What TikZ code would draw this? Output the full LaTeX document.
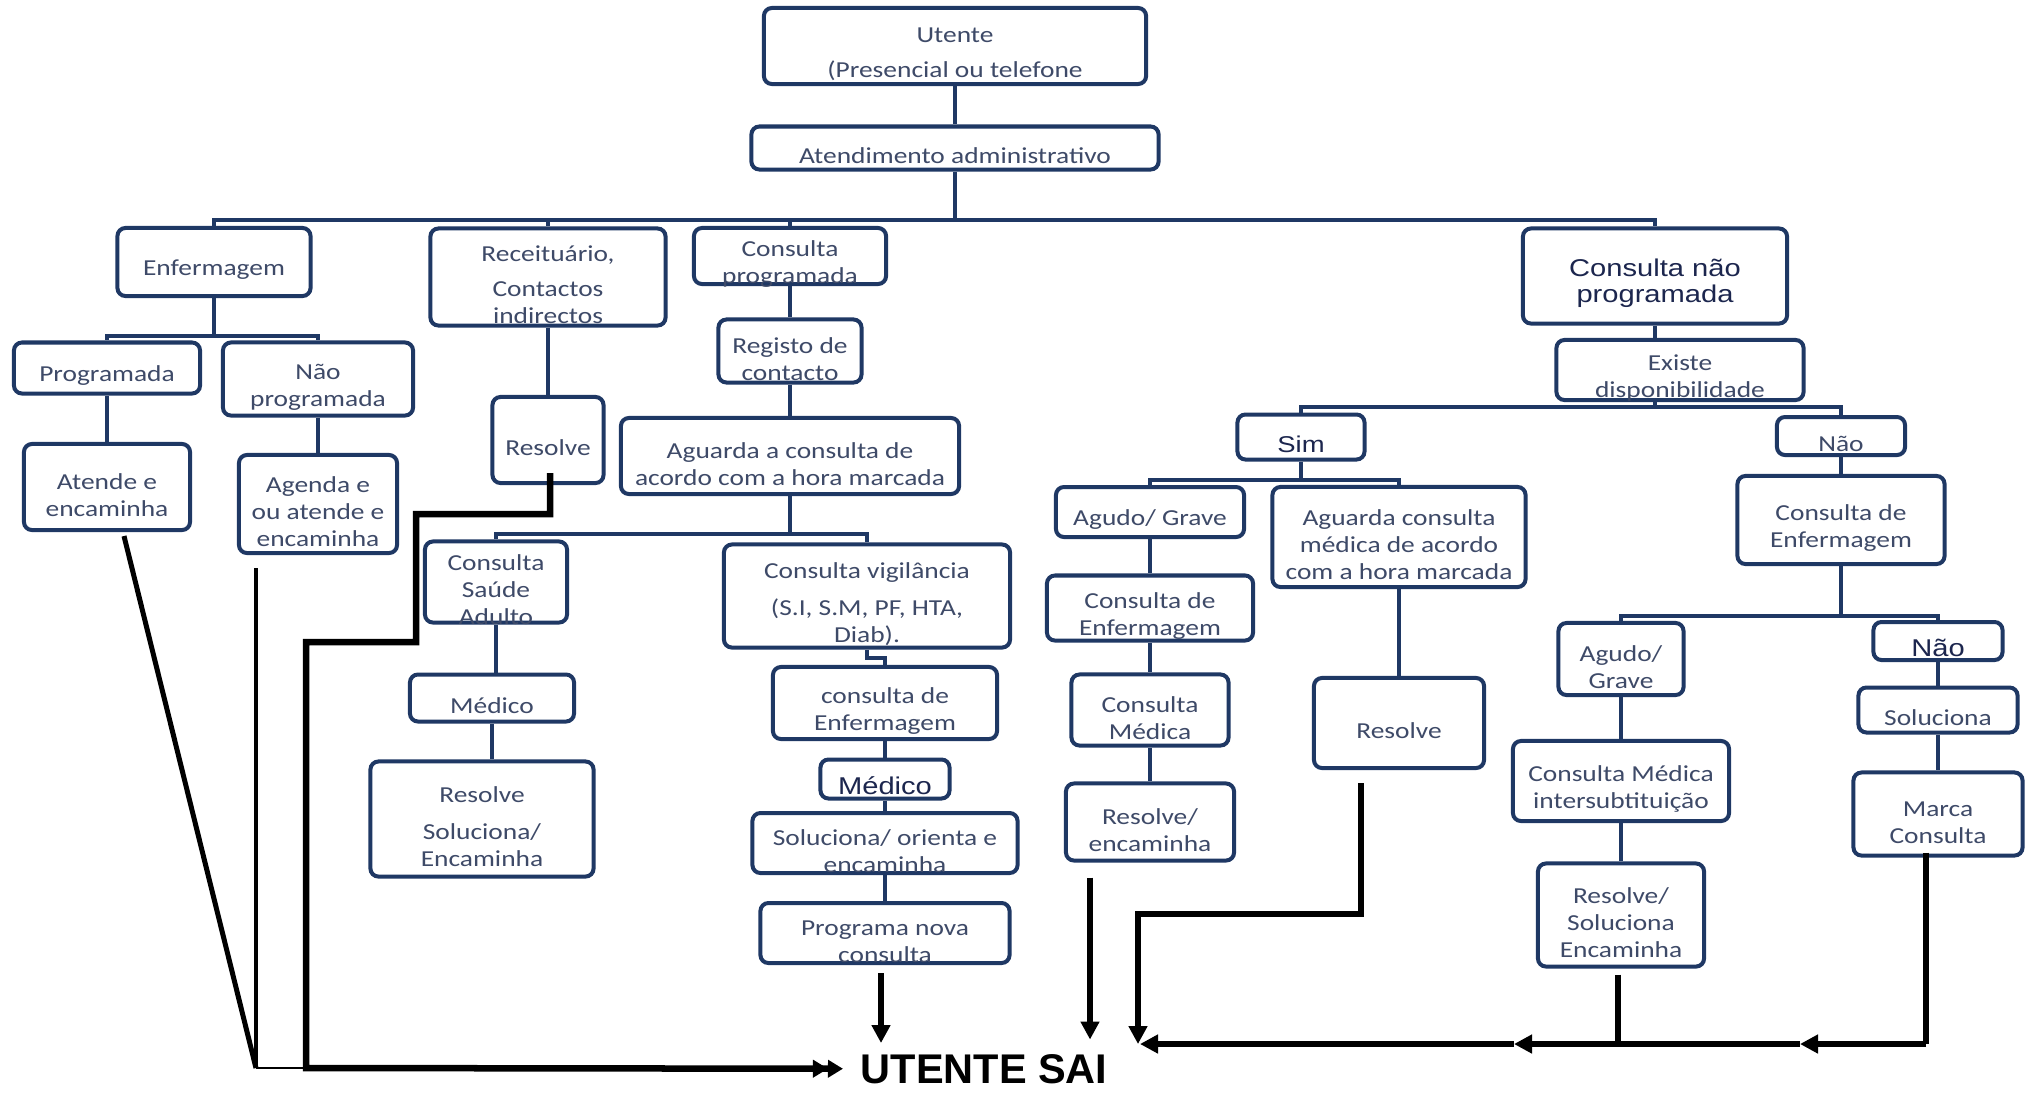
\documentclass[tikz,border=0pt]{standalone}
\usepackage{fontspec}
\setmainfont{Carlito}[FakeStretch=1.2]
\newfontfamily\arialfont{Liberation Sans}[FakeStretch=1.2]
\newfontfamily\saifont{Liberation Sans}
\usetikzlibrary{arrows.meta,calc}
\definecolor{boxblue}{RGB}{31,56,100}
\definecolor{txtblue}{RGB}{62,74,104}
\definecolor{darkblue}{RGB}{28,38,78}
\newcommand{\topo}{\rule{0pt}{9pt}}
\tikzset{
  caixa/.style={draw=boxblue, line width=0.04cm, rounded corners=0.08cm, fill=white,
    align=center, text=txtblue, inner xsep=0pt, inner ysep=-2pt, font=\fontsize{6.5pt}{7.7pt}\selectfont},
  caixaarial/.style={caixa, text=darkblue, font=\arialfont\fontsize{6.9pt}{7.3pt}\selectfont},
  liga/.style={draw=boxblue, line width=0.04cm},
  saida/.style={draw=black, line width=0.065cm},
  ponta/.style={-{Triangle[length=0.18cm,width=0.18cm]}},
}
\begin{document}
\begin{tikzpicture}[x=0.01cm, y=-0.01cm]
\useasboundingbox (0,0) rectangle (2033,1093);
% caixas
\node[caixa, minimum width=3.82cm, minimum height=0.76cm] (ute) at (955,46) {\topo Utente\\[0.08cm](Presencial ou telefone};
\node[caixa, minimum width=4.07cm, minimum height=0.43cm] (adm) at (955,148) {\topo Atendimento administrativo};
\node[caixa, minimum width=1.93cm, minimum height=0.68cm] (enf) at (214,262) {\topo Enfermagem};
\node[caixa, minimum width=2.35cm, minimum height=0.97cm] (rec) at (548,277) {\topo Receituário,\\[0.08cm]Contactos\\indirectos};
\node[caixa, minimum width=1.92cm, minimum height=0.56cm] (cpr) at (790,256) {\topo Consulta\\programada};
\node[caixaarial, minimum width=2.64cm, minimum height=0.95cm] (cnp) at (1655,276) {\topo Consulta não\\programada};
\node[caixa, minimum width=1.86cm, minimum height=0.51cm] (prg) at (107,368) {\topo Programada};
\node[caixa, minimum width=1.9cm, minimum height=0.73cm] (npr) at (318,379) {\topo Não\\programada};
\node[caixa, minimum width=1.66cm, minimum height=0.86cm] (ate) at (107,487) {\topo Atende e\\encaminha};
\node[caixa, minimum width=1.58cm, minimum height=0.98cm] (age) at (318,504) {\topo Agenda e\\ou atende e\\encaminha};
\node[caixa, minimum width=1.11cm, minimum height=0.86cm] (res1) at (548,440) {\topo Resolve};
\node[caixa, minimum width=1.43cm, minimum height=0.63cm] (reg) at (790,351) {\topo Registo de\\contacto};
\node[caixa, minimum width=3.38cm, minimum height=0.76cm] (agu) at (790,456) {\topo Aguarda a consulta de\\acordo com a hora marcada};
\node[caixa, minimum width=1.42cm, minimum height=0.81cm] (csa) at (496,582) {\topo Consulta\\Saúde\\Adulto};
\node[caixa, minimum width=2.86cm, minimum height=1.03cm] (cvi) at (867,596) {\topo Consulta vigilância\\[0.1cm](S.I, S.M, PF, HTA,\\Diab).};
\node[caixa, minimum width=1.64cm, minimum height=0.47cm] (med1) at (492,698) {\topo Médico};
\node[caixa, minimum width=2.23cm, minimum height=1.15cm] (res2) at (482,819) {\topo Resolve\\[0.1cm]Soluciona/\\Encaminha};
\node[caixa, minimum width=2.24cm, minimum height=0.72cm] (cen1) at (885,703) {\topo consulta de\\Enfermagem};
\node[caixaarial, minimum width=1.29cm, minimum height=0.39cm] (med2) at (885,779) {\topo Médico};
\node[caixa, minimum width=2.65cm, minimum height=0.6cm] (sol1) at (885,843) {\topo Soluciona/ orienta e\\encaminha};
\node[caixa, minimum width=2.49cm, minimum height=0.6cm] (pnc) at (885,933) {\topo Programa nova\\consulta};
\node[caixa, minimum width=2.47cm, minimum height=0.6cm] (exi) at (1680,370) {\topo Existe\\disponibilidade};
\node[caixaarial, minimum width=1.27cm, minimum height=0.45cm, font=\arialfont\fontsize{6.5pt}{7.5pt}\selectfont] (sim) at (1301,437) {\topo Sim};
\node[caixa, minimum width=1.28cm, minimum height=0.38cm] (nao1) at (1841,436) {\topo Não};
\node[caixa, minimum width=1.88cm, minimum height=0.5cm] (agr1) at (1150,512) {\topo Agudo/ Grave};
\node[caixa, minimum width=2.53cm, minimum height=1.0cm] (amc) at (1399,537) {\topo Aguarda consulta\\médica de acordo\\com a hora marcada};
\node[caixa, minimum width=2.06cm, minimum height=0.65cm] (cen2) at (1150,608) {\topo Consulta de\\Enfermagem};
\node[caixa, minimum width=1.57cm, minimum height=0.71cm] (cme) at (1150,710) {\topo Consulta\\Médica};
\node[caixa, minimum width=1.68cm, minimum height=0.77cm] (ren) at (1150,822) {\topo Resolve/\\encaminha};
\node[caixa, minimum width=1.7cm, minimum height=0.9cm] (res3) at (1399,723) {\topo Resolve};
\node[caixa, minimum width=2.07cm, minimum height=0.88cm] (cen3) at (1841,520) {\topo Consulta de\\Enfermagem};
\node[caixa, minimum width=1.25cm, minimum height=0.72cm] (agr2) at (1621,659) {\topo Agudo/\\Grave};
\node[caixaarial, minimum width=1.29cm, minimum height=0.38cm] (nao2) at (1938,641) {\topo Não};
\node[caixa, minimum width=2.16cm, minimum height=0.8cm] (cmi) at (1621,781) {\topo Consulta Médica\\intersubtituição};
\node[caixa, minimum width=1.66cm, minimum height=1.03cm] (rse) at (1621,915) {\topo Resolve/\\Soluciona\\Encaminha};
\node[caixa, minimum width=1.59cm, minimum height=0.45cm] (slc) at (1938,710) {\topo Soluciona};
\node[caixa, minimum width=1.69cm, minimum height=0.83cm] (mar) at (1938,814) {\topo Marca\\Consulta};
\node[anchor=base west, inner sep=0pt, font=\saifont\bfseries\fontsize{11.8pt}{14pt}\selectfont] (sai) at (860,1083) {UTENTE SAI};
% ligações
\coordinate (b1) at (955,220);
\coordinate (b2) at (214,336);
\coordinate (b3) at (790,534);
\coordinate (b4) at (1655,407);
\coordinate (b5) at (1301,480);
\coordinate (b6) at (1841,616);
\draw[liga] (ute) -- (adm);
\draw[liga] (adm) -- (b1);
\foreach \n in {enf,rec,cpr,cnp} \draw[liga] (b1) -| (\n.north);
\draw[liga] (enf) -- (b2);
\foreach \n in {prg,npr} \draw[liga] (b2) -| (\n.north);
\draw[liga] (prg) -- (ate);
\draw[liga] (npr) -- (age);
\draw[liga] (rec) -- (res1);
\draw[liga] (cpr) -- (reg);
\draw[liga] (reg) -- (agu);
\draw[liga] (agu) -- (b3);
\foreach \n in {csa,cvi} \draw[liga] (b3) -| (\n.north);
\draw[liga] (csa.south) -- (csa.south |- med1.north);
\draw[liga] (med1.south) -- (med1.south |- res2.north);
\draw[liga] (cvi.south) -- ++(0,8) -| (cen1.north);
\draw[liga] (cen1) -- (med2);
\draw[liga] (med2) -- (sol1);
\draw[liga] (sol1) -- (pnc);
\draw[liga] (cnp.south) -- (cnp.south |- exi.north);
\draw[liga] (cnp.south |- exi.south) -- (b4);
\foreach \n in {sim,nao1} \draw[liga] (b4) -| (\n.north);
\draw[liga] (sim) -- (b5);
\foreach \n in {agr1,amc} \draw[liga] (b5) -| (\n.north);
\draw[liga] (agr1) -- (cen2);
\draw[liga] (cen2) -- (cme);
\draw[liga] (cme) -- (ren);
\draw[liga] (amc) -- (res3);
\draw[liga] (nao1) -- (cen3);
\draw[liga] (cen3) -- (b6);
\foreach \n in {agr2,nao2} \draw[liga] (b6) -| (\n.north);
\draw[liga] (agr2) -- (cmi);
\draw[liga] (cmi) -- (rse);
\draw[liga] (nao2) -- (slc);
\draw[liga] (slc) -- (mar);
% saídas
\coordinate (jl) at (256,1068);
\coordinate (jr) at (306,1068);
\coordinate (c1) at (1926,1044);
\coordinate (c2) at (1800,1044);
\coordinate (c3) at (1514,1044);
\coordinate (c4) at (1140,1044);
\draw[saida, line width=0.05cm] ($(ate.south)+(17,4)$) -- (jl);
\draw[saida, line width=0.045cm] ($(age.south)+(-62,13)$) -- (jl);
\draw[black, line width=0.015cm] (jl) -- (jr);
\draw[saida, -{Triangle[length=0.15cm,width=0.17cm]Triangle[length=0.15cm,width=0.17cm]}]
  ($(res1.south)+(2,-12)$) -- ++(0,41) -- ++(-134,0) -- ++(0,128) -- ++(-110,0) -- (jr) -- ([xshift=-0.17cm]sai.west);
\draw[saida, ponta] ($(pnc.south)+(-4,8)$) -- ++(0,70);
\draw[saida, ponta] ($(ren.south)+(-60,15)$) -- ++(0,162);
\draw[saida, ponta] ($(res3.south)+(-38,13)$) -- ++(0,131) -- ++(-223,0) -- ++(0,130);
\draw[saida] ($(mar.south)+(-12,-5)$) -- (c1);
\draw[saida] ($(rse.south)+(-3,6)$) coordinate (r0) -- (r0 |- c1);
\draw[saida, ponta] (c1) -- (c2);
\draw[saida, ponta] (c2) -- (c3);
\draw[saida, ponta] (c3) -- (c4);
\end{tikzpicture}
\end{document}
